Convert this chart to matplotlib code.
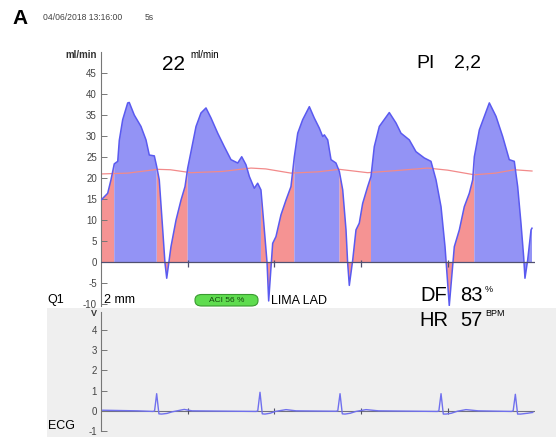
import matplotlib
matplotlib.use("Agg")
import matplotlib.pyplot as plt
from matplotlib.patches import Rectangle, FancyBboxPatch
import numpy as np

plt.rcParams['font.family'] = ['Liberation Sans', 'DejaVu Sans']
plt.rcParams['axes.unicode_minus'] = False

# flow curve (time in s, flow in ml/min)
flow_t = [0.000, 0.020, 0.077, 0.115, 0.153, 0.193, 0.211, 0.250, 0.308, 0.326,
          0.384, 0.461, 0.519, 0.557, 0.615, 0.642, 0.672, 0.712, 0.738, 0.758,
          0.807, 0.865, 0.923, 0.969, 1.000, 1.038, 1.096, 1.153, 1.211, 1.269,
          1.346, 1.422, 1.499, 1.577, 1.623, 1.672, 1.711, 1.768, 1.807, 1.845,
          1.884, 1.915, 1.934, 1.980, 2.018, 2.076, 2.134, 2.191, 2.230, 2.269,
          2.326, 2.403, 2.460, 2.518, 2.557, 2.576, 2.615, 2.653, 2.710, 2.749,
          2.788, 2.826, 2.845, 2.864, 2.903, 2.941, 2.979, 3.018, 3.076, 3.114,
          3.152, 3.210, 3.325, 3.403, 3.460, 3.556, 3.633, 3.729, 3.806, 3.864,
          3.922, 3.968, 4.017, 4.075, 4.133, 4.190, 4.248, 4.287, 4.306, 4.364,
          4.479, 4.556, 4.633, 4.709, 4.767, 4.806, 4.844, 4.875, 4.890, 4.921,
          4.960, 4.971]
flow_v = [14.8, 15.2, 16.4, 19.6, 23.4, 24.0, 29.0, 33.9, 37.9, 38.0,
          35.0, 32.3, 29.1, 25.5, 25.3, 22.8, 19.6, 7.7, -0.2, -3.8,
          3.7, 10.0, 14.8, 18.0, 22.4, 26.3, 32.3, 35.5, 36.7, 34.3,
          30.7, 27.5, 24.4, 23.6, 25.1, 23.2, 20.4, 17.6, 18.8, 17.2,
          7.7, 0.0, -9.2, 4.5, 6.1, 11.3, 14.8, 18.0, 25.1, 30.7,
          33.9, 37.0, 34.3, 31.9, 29.9, 30.3, 29.1, 24.4, 23.6, 21.6,
          17.2, 7.7, -0.2, -5.5, 0.5, 7.7, 9.3, 14.0, 18.0, 20.4,
          27.5, 32.3, 35.6, 33.1, 30.7, 29.1, 26.3, 24.8, 24.0, 19.6,
          13.2, 3.7, -10.3, 3.7, 7.7, 13.2, 16.4, 19.6, 25.1, 31.5,
          37.9, 34.7, 29.9, 24.4, 24.0, 18.0, 9.3, 1.3, -3.8, 0.5,
          7.7, 8.1]

# systolic phases (red fill)
sys_start = [0.000, 0.642, 1.845, 2.749, 3.968]
sys_end = [0.153, 1.000, 2.230, 3.114, 4.306]

# mean flow line
mean_t = [0.000, 0.308, 0.654, 0.800, 1.038, 1.400, 1.730, 1.900, 2.191, 2.500,
          2.749, 3.076, 3.400, 3.768, 4.000, 4.306, 4.550, 4.767, 4.971]
mean_v = [21.0, 21.2, 22.1, 22.0, 21.3, 21.6, 22.4, 22.2, 21.2, 21.5,
          22.1, 21.3, 21.8, 22.4, 21.9, 20.8, 21.2, 22.0, 21.7]

# ECG trace (V)
ecg_t = [0.020, 0.420, 0.600, 0.618, 0.642, 0.668, 0.700, 0.760, 0.820, 0.960, 1.050,
         1.790, 1.808, 1.834, 1.860, 1.892, 1.950, 2.010, 2.134, 2.250,
         2.710, 2.731, 2.757, 2.783, 2.815, 2.875, 2.940, 3.057, 3.200,
         3.880, 3.897, 3.922, 3.948, 3.980, 4.040, 4.110, 4.210, 4.350,
         4.735, 4.754, 4.779, 4.805, 4.840, 4.920, 4.980]
ecg_v = [0.03, 0.00, -0.03, 0.00, 0.85, -0.15, -0.16, -0.13, -0.05, 0.07, 0.00,
         -0.03, 0.00, 0.92, -0.15, -0.16, -0.12, -0.03, 0.06, 0.00,
         -0.02, 0.00, 0.85, -0.15, -0.16, -0.12, -0.03, 0.06, 0.00,
         -0.03, 0.00, 0.85, -0.16, -0.16, -0.12, -0.02, 0.06, 0.00,
         -0.03, 0.00, 0.82, -0.16, -0.16, -0.12, -0.08]

second_ticks = [1, 2, 3, 4]

W, H = 556, 437
fig = plt.figure(figsize=(W / 100, H / 100), dpi=100)

def fx(x):
    return x / W

def fy(y):
    return 1 - y / H

def ftext(x, y, s, **kw):
    fig.text(fx(x), fy(y), s, **kw)

# grey ECG panel background (behind the axes)
fig.patches.append(Rectangle((fx(47), 0), 1 - fx(47), fy(308), transform=fig.transFigure,
                             facecolor='#efefef', edgecolor='none', zorder=-5))

x0, x1 = 101, 101 + 433.5
tick_col = '#444444'

# flow panel
ax = fig.add_axes([fx(x0), fy(306), fx(x1) - fx(x0), fy(52) - fy(306)])
ax.set_facecolor('none')
ax.set_xlim(0, 5)
ax.set_ylim(-10.4, 50)
t = np.array(flow_t)
v = np.array(flow_v)
red = np.zeros(len(t), dtype=bool)
for a, b in zip(sys_start, sys_end):
    red |= (t >= a) & (t <= b)
blue = ~red
for a, b in zip(sys_start, sys_end):
    blue |= (t == a) | (t == b)
ax.fill_between(t, v, 0, where=red, color='#f59393', linewidth=0, zorder=1)
ax.fill_between(t, v, 0, where=blue, color='#9393f5', linewidth=0, zorder=1)
ax.plot(t, v, color='#5a5af0', lw=1.1, zorder=3)
ax.plot(mean_t, mean_v, color='#f28a8a', lw=0.9, zorder=2)
ax.plot([0, 5.02], [0, 0], color='#505070', lw=0.9, zorder=4)
ax.vlines(second_ticks, -1.2, 0.5, color='#505070', lw=0.9, zorder=4)
ax.set_yticks(np.arange(-10, 50, 5))
ax.set_xticks([])
for s in ['top', 'right', 'bottom']:
    ax.spines[s].set_visible(False)
ax.spines['left'].set_color('#777777')
ax.tick_params(axis='y', direction='in', length=4, width=0.7, color='#777777',
               labelsize=7, labelcolor=tick_col, pad=3)

# ECG panel
ax2 = fig.add_axes([fx(x0), fy(431), fx(x1) - fx(x0), fy(312) - fy(431)])
ax2.set_facecolor('none')
ax2.set_xlim(0, 5)
ax2.set_ylim(-1, 4.9)
ax2.plot([0, 5.02], [0, 0], color='#707080', lw=0.8, zorder=1)
ax2.vlines(second_ticks, -0.15, 0.15, color='#505060', lw=0.8, zorder=2)
ax2.plot(ecg_t, ecg_v, color='#7070ee', lw=1.0, zorder=3)
ax2.set_yticks([-1, 0, 1, 2, 3, 4])
ax2.set_xticks([])
for s in ['top', 'right', 'bottom']:
    ax2.spines[s].set_visible(False)
ax2.spines['left'].set_color('#777777')
ax2.tick_params(axis='y', direction='in', length=4, width=0.7, color='#777777',
                labelsize=7, labelcolor=tick_col, pad=3)

# header texts
ftext(12, 19, 'A', fontsize=15, fontweight='bold', va='center', ha='left')
ftext(43, 17, '04/06/2018 13:16:00', fontsize=6.2, color='#444444', va='center')
ftext(145, 17, '5s', fontsize=6.2, color='#444444', va='center')
ftext(97, 55.5, 'ml/min', fontsize=7, fontweight='bold', color='#333333', va='center', ha='right')
ftext(162, 64, '22', fontsize=15, va='center')
ftext(190, 54.5, 'ml/min', fontsize=7, va='center')
ftext(416, 63, 'PI', fontsize=14, va='center')
ftext(454, 63, '2,2', fontsize=14, va='center')

# bottom labels
ftext(47, 300, 'Q1', fontsize=9, va='center')
ftext(104, 300, '2 mm', fontsize=9, va='center')
ftext(271, 300.5, 'LIMA LAD', fontsize=9, va='center')
ftext(420, 295.5, 'DF', fontsize=14.5, va='center')
ftext(460, 295.5, '83', fontsize=14.5, va='center')
ftext(485, 289.5, '%', fontsize=6.5, va='center')
ftext(419, 320.5, 'HR', fontsize=14.5, va='center')
ftext(460, 320.5, '57', fontsize=14.5, va='center')
ftext(485, 314, 'BPM', fontsize=6.5, va='center')
ftext(97, 314, 'V', fontsize=6.5, fontweight='bold', color='#333333', va='center', ha='right')
ftext(48, 426, 'ECG', fontsize=9, va='center')

# green ACI badge
badge = FancyBboxPatch((fx(195), fy(306)), fx(258) - fx(195), fy(294.5) - fy(306),
                       boxstyle='round,pad=0,rounding_size=0.012', transform=fig.transFigure,
                       facecolor='#5fdc4f', edgecolor='#3a9a30', lw=0.8)
fig.patches.append(badge)
ftext(226.5, 300.3, 'ACI 56 %', fontsize=6, color='#164a10', va='center', ha='center')

fig.savefig('out.png', dpi=100)
